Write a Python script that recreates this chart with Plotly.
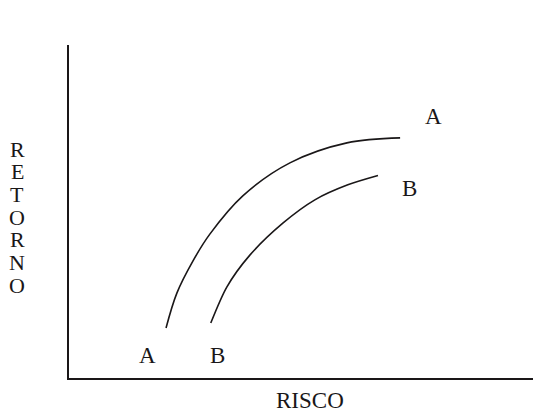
import plotly.graph_objects as go

# curve A (upper) and curve B (lower), risk vs return in arbitrary units
risco_a = [2.06, 2.29, 2.63, 2.99, 3.69, 4.69, 5.90, 7.03]
retorno_a = [1.50, 2.55, 3.51, 4.32, 5.47, 6.46, 7.06, 7.21]
risco_b = [3.01, 3.35, 3.84, 4.54, 5.22, 5.92, 6.56]
retorno_b = [1.65, 2.73, 3.69, 4.65, 5.35, 5.80, 6.08]

# curve labels: text, x, y
label_text = ["A", "B", "A", "B"]
label_x = [1.66, 3.16, 7.73, 7.22]
label_y = [0.69, 0.69, 7.84, 5.68]

y_title = "RETORNO"
x_title = "RISCO"

# page body has an 8px margin, so the figure is a bit smaller than the window
W, H = 533, 404
L, R, T, B = 61, 1, 37, 34
pw, ph = W - L - R, H - T - B
FONT = "Liberation Serif"
INK = "#1a1718"

def px(x):
    return (x - 8 - L) / pw

def py(y):
    return (H + 8 - B - y) / ph

fig = go.Figure()
fig.add_trace(go.Scatter(x=risco_a, y=retorno_a, mode="lines",
                         line=dict(color=INK, width=1.6, shape="spline", smoothing=1)))
fig.add_trace(go.Scatter(x=risco_b, y=retorno_b, mode="lines",
                         line=dict(color=INK, width=1.6, shape="spline", smoothing=0.8)))

for t, x, y in zip(label_text, label_x, label_y):
    fig.add_annotation(x=x, y=y, text=t, showarrow=False, xanchor="center", yanchor="middle",
                       font=dict(family=FONT, size=23, color=INK))

# vertical stacked y title
for i, ch in enumerate(y_title):
    fig.add_annotation(xref="paper", yref="paper", x=px(17), y=py(149 + 22.7 * i),
                       text=ch, showarrow=False, xanchor="center", yanchor="middle",
                       font=dict(family=FONT, size=22, color=INK))

fig.add_annotation(xref="paper", yref="paper", x=px(310), y=py(400), text=x_title,
                   showarrow=False, xanchor="center", yanchor="middle",
                   font=dict(family=FONT, size=23, color=INK))

fig.update_xaxes(range=[0, 10], showline=True, linecolor=INK, linewidth=2, showgrid=False,
                 zeroline=False, showticklabels=False, ticks="")
fig.update_yaxes(range=[0, 10], showline=True, linecolor=INK, linewidth=2, showgrid=False,
                 zeroline=False, showticklabels=False, ticks="")
fig.update_layout(width=W, height=H, margin=dict(l=L, r=R, t=T, b=B), showlegend=False,
                  plot_bgcolor="white", paper_bgcolor="white")

fig.write_html("out.html")
